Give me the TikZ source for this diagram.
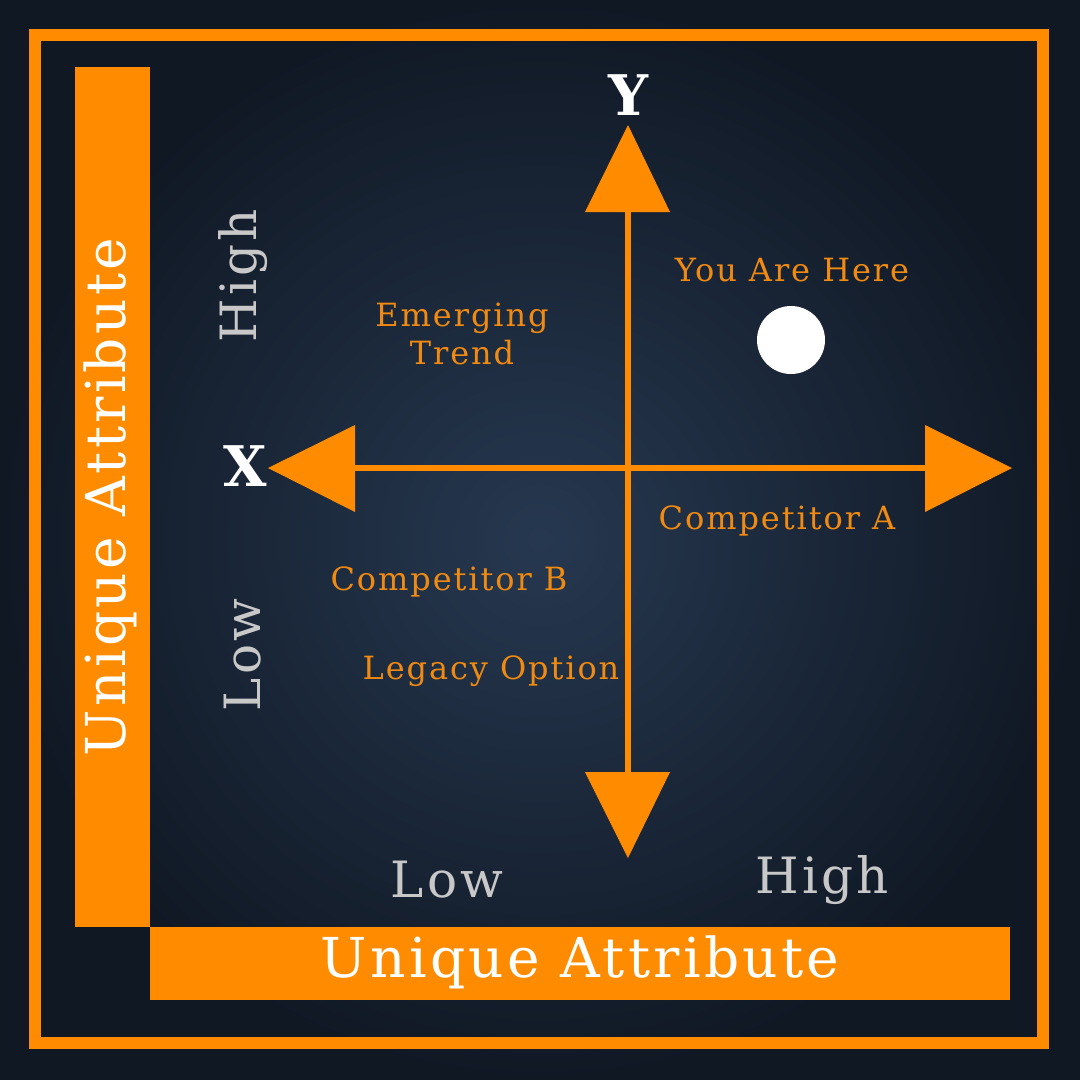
\documentclass[tikz,border=0pt]{standalone}
\usepackage{fontspec}
\setmainfont{DejaVu Serif}[LetterSpace=6]
\definecolor{org}{HTML}{FF8C00}
\definecolor{lbl}{HTML}{F08A10}
\definecolor{gr}{HTML}{C8C8C8}
\begin{document}
\begin{tikzpicture}[x=1pt,y=-1pt,
  lab/.style={text=lbl,font=\fontsize{32}{38}\selectfont,align=center},
  axlab/.style={text=gr,font=\fontsize{50}{54}\selectfont},
  bar/.style={fill=org,draw=none},
  barlab/.style={text=white,font=\fontsize{55}{60}\selectfont},
  tip/.style={fill=org,draw=none}]
\useasboundingbox (0,0) rectangle (1080,1080);
\shade[inner color={rgb,255:red,38;green,56;blue,80},outer color={rgb,255:red,16;green,24;blue,36},shading=radial] (0,0) rectangle (1080,1080);
\draw[org,line width=12] (35,35) rectangle (1043,1043);
\fill[bar] (75,67) rectangle (150,927);
\fill[bar] (150,927) rectangle (1010,1000);
\node[barlab,rotate=90] (lt) at (110,497) {Unique Attribute};
\node[barlab] (bt) at (580,962) {Unique Attribute};
\coordinate (ytop) at (628,210); \coordinate (ybot) at (628,775);
\coordinate (xl) at (352,468); \coordinate (xr) at (928,468);
\draw[org,line width=6] (ytop) -- (ybot);
\draw[org,line width=6] (xl) -- (xr);
\fill[tip] (628,125) -- (670,212) -- (585,212) -- cycle;
\fill[tip] (628,858) -- (670,772) -- (585,772) -- cycle;
\fill[tip] (268,468) -- (355,425) -- (355,512) -- cycle;
\fill[tip] (1012,468) -- (925,425) -- (925,512) -- cycle;
\node[text=white,font=\bfseries\fontsize{56}{60}\selectfont] (Y) at (628,95) {Y};
\node[text=white,font=\bfseries\fontsize{56}{60}\selectfont] (X) at (245,466) {X};
\node[axlab,rotate=90] (hi) at (243,276) {High};
\node[axlab,rotate=90] (lo) at (243,655) {Low};
\node[axlab] (lo2) at (447,880) {Low};
\node[axlab] (hi2) at (822,880) {High};
\node[lab] (yah) at (792,270) {You Are Here};
\node[lab] (em) at (462,334) {Emerging\\Trend};
\node[lab] (ca) at (777,521) {Competitor A};
\node[lab] (cb) at (449,582) {Competitor B};
\node[lab] (lg) at (491,671) {Legacy Option};
\fill[white] (791,340) circle (34);
\end{tikzpicture}
\end{document}
